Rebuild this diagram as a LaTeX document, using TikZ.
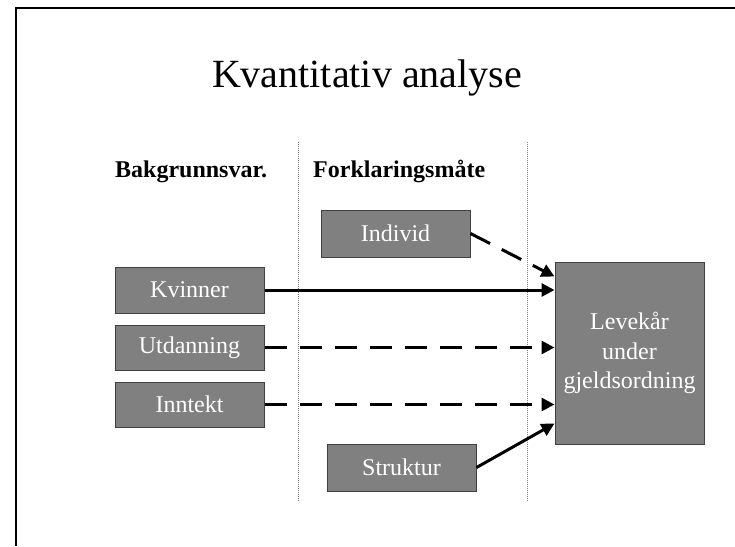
\documentclass[tikz,border=0pt]{standalone}
\usepackage{fontspec}
\setmainfont{Liberation Serif}
\usetikzlibrary{arrows.meta,calc}
\definecolor{boxgray}{HTML}{808080}
\definecolor{boxedge}{HTML}{404040}
\tikzset{
  gbox/.style={draw=boxedge, line width=1pt, fill=boxgray, text=white, minimum width=149pt, inner sep=0pt, font=\fontsize{24}{28}\selectfont},
  conn/.style={line width=3pt, -{Triangle[length=13pt,width=13pt]}},
  dconn/.style={conn, dash pattern=on 22pt off 13pt},
  divider/.style={gray, line width=1pt, densely dotted},
  head/.style={font=\fontsize{24}{28}\selectfont\bfseries, anchor=base west, inner sep=0pt}
}
\begin{document}
\begin{tikzpicture}[x=1pt,y=-1pt]
\useasboundingbox (0,0) rectangle (735,546);
% frame
\draw[line width=2.5pt] (16,546) -- (16,8) -- (735,8);
% title
\node[anchor=base, inner sep=0pt, font=\fontsize{40}{48}\selectfont] (title) at (367,87) {Kvantitativ analyse};
% dividers
\coordinate (d1t) at (298,142); \coordinate (d1b) at (298,502);
\coordinate (d2t) at (527,142); \coordinate (d2b) at (527,502);
\draw[divider] (d1t) -- (d1b);
\draw[divider] (d2t) -- (d2b);
% headings
\node[head] (h1) at (115,177) {Bakgrunnsvar.};
\node[head] (h2) at (313,177) {Forklaringsmåte};
% boxes
\node[gbox, minimum height=47pt] (ind) at (395.5,233.5) {Individ};
\node[gbox, minimum height=46pt] (kv) at (189.5,290) {Kvinner};
\node[gbox, minimum height=45pt] (ut) at (189.5,347.5) {Utdanning};
\node[gbox, minimum height=45pt] (inn) at (189.5,404.5) {Inntekt};
\node[gbox, minimum height=47pt] (st) at (401.5,467.5) {Struktur};
\node[gbox, minimum height=182pt, align=center, font=\fontsize{24}{29.5}\selectfont] (lev) at (629.5,353) {Levekår\\under\\gjeldsordning};
% connectors
\coordinate (levind) at ($(lev.north west)+(0,15)$);
\coordinate (levst) at ($(lev.south west)+(0,-21)$);
\draw[dconn] (ind.east) -- (levind);
\draw[conn] (kv.east) -- (kv.east -| lev.west);
\draw[dconn] (ut.east) -- (ut.east -| lev.west);
\draw[dconn] (inn.east) -- (inn.east -| lev.west);
\draw[conn] (st.east) -- (levst);
\end{tikzpicture}
\end{document}
